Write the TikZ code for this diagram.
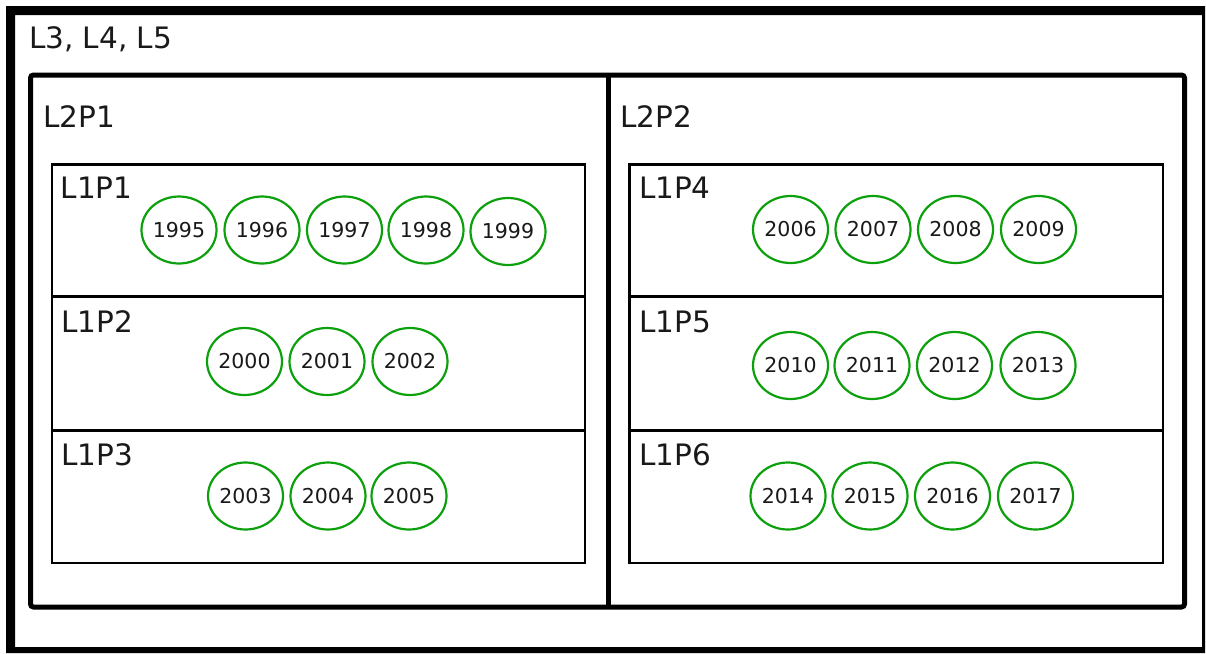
\documentclass[tikz,border=0pt]{standalone}
\usepackage{fontspec}
\setmainfont{DejaVu Sans}
\usetikzlibrary{shapes.geometric}
\definecolor{yrgreen}{RGB}{12,160,12}
\definecolor{txt}{RGB}{25,25,25}
\tikzset{
  yr/.style={draw=yrgreen, line width=2.2pt, ellipse, minimum width=75pt, minimum height=67pt, inner sep=0pt, text=txt, font=\fontsize{20.5}{24}\selectfont},
  lbl/.style={anchor=base west, inner sep=0pt, text=txt, font=\fontsize{29.5}{33}\selectfont},
  lone/.style={draw=black, line width=2.5pt},
  ltwo/.style={draw=black, line width=5pt, rounded corners=3pt},
}
\begin{document}
\begin{tikzpicture}[x=1pt,y=-1pt]
\useasboundingbox (0,0) rectangle (1206,653);
% outer L3-L5 frame
\fill[black, even odd rule] (6,6) rectangle (1205,653) (15,15) rectangle (1202,647);
\node[lbl] (l345) at (28.8,48) {L3, L4, L5};
% L2 container
\draw[ltwo] (30.5,75) rectangle (1184.5,607);
\draw[line width=5pt] (608,75) -- (608,607);
\node[lbl] (l2p1) at (43.2,127) {L2P1};
\node[lbl] (l2p2) at (620,127) {L2P2};
% L1 boxes
\draw[lone] (52,164.5) rectangle (585,563);
\draw[lone] (52,296.5) -- (585,296.5);
\draw[lone] (52,430.5) -- (585,430.5);
\draw[lone] (629.5,164.5) rectangle (1163,563);
\draw[lone] (629.5,296.5) -- (1163,296.5);
\draw[lone] (629.5,430.5) -- (1163,430.5);
\node[lbl] (l1p1) at (60.5,198) {L1P1};
\node[lbl] (l1p2) at (61,332) {L1P2};
\node[lbl] (l1p3) at (61,465) {L1P3};
\node[lbl] (l1p4) at (638.8,198) {L1P4};
\node[lbl] (l1p5) at (639,332) {L1P5};
\node[lbl] (l1p6) at (639,465) {L1P6};
% years
\node[yr] (y1995) at (179,230) {1995};
\node[yr] (y1996) at (262,230) {1996};
\node[yr] (y1997) at (344.5,230) {1997};
\node[yr] (y1998) at (426,230) {1998};
\node[yr] (y1999) at (508,231.5) {1999};
\node[yr] (y2000) at (244.5,361.5) {2000};
\node[yr] (y2001) at (327,361.5) {2001};
\node[yr] (y2002) at (410,361.5) {2002};
\node[yr] (y2003) at (245.5,496) {2003};
\node[yr] (y2004) at (328,496) {2004};
\node[yr] (y2005) at (409,496) {2005};
\node[yr] (y2006) at (790.5,229.5) {2006};
\node[yr] (y2007) at (873,229.5) {2007};
\node[yr] (y2008) at (955.5,229.5) {2008};
\node[yr] (y2009) at (1038.5,229.5) {2009};
\node[yr] (y2010) at (790.5,365.5) {2010};
\node[yr] (y2011) at (872,365.5) {2011};
\node[yr] (y2012) at (954.5,365.5) {2012};
\node[yr] (y2013) at (1038,365.5) {2013};
\node[yr] (y2014) at (788,496) {2014};
\node[yr] (y2015) at (870,496) {2015};
\node[yr] (y2016) at (952.5,496) {2016};
\node[yr] (y2017) at (1035.5,496) {2017};
\end{tikzpicture}
\end{document}
